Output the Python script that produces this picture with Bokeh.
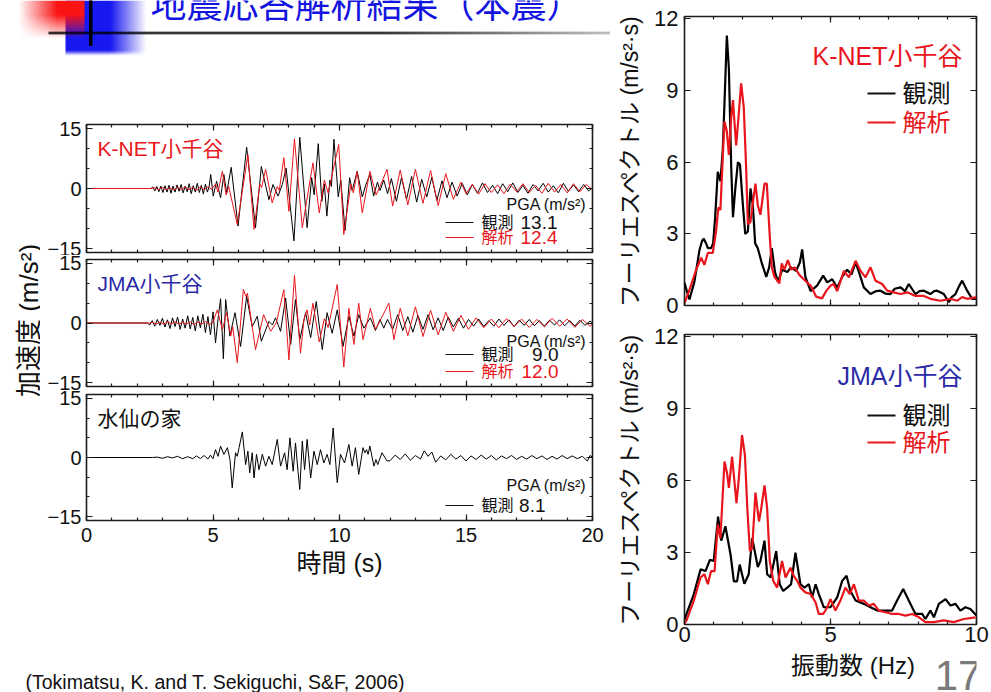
import numpy as np
from bokeh.plotting import figure
from bokeh.layouts import row, column
from bokeh.models import Range1d, FixedTicker, LinearAxis, Label
from bokeh.embed import file_html
from bokeh.resources import INLINE
from bokeh.core.properties import value

# ---------------------------------------------------------------- data
TITLE = "地震応答解析結果（本震）"
SOURCE = "(Tokimatsu, K. and T. Sekiguchi, S&F, 2006)"
PAGE_NO = "17"

STATIONS = ["K-NET小千谷", "JMA小千谷", "水仙の家"]
SERIES_NAMES = ["観測", "解析"]
PGA_OBS = [13.1, 9.0, 8.1]          # m/s^2
PGA_SIM = [12.4, 12.0, None]        # m/s^2

TIME_TICKS = [0, 5, 10, 15, 20]
TIME_MINOR = list(range(0, 21))
ACC_TICKS = [-15, 0, 15]
ACC_MINOR = [-10, -5, 5, 10]
FREQ_TICKS = [0, 5, 10]
FREQ_MINOR = list(range(0, 11))
FOURIER_TICKS = [0, 3, 6, 9, 12]

# acceleration records (time s, acceleration m/s^2), extrema of the traces
KNET_OBS = [
    (0.0, 0.0), (2.55, 0.0), (2.62, 0.4), (2.7, -0.6), (2.78, 0.5), (2.86, -0.8), (2.94, 0.6),
    (3.02, -1.0), (3.1, 0.7), (3.18, -0.9), (3.26, 0.8), (3.34, -1.2), (3.42, 0.6), (3.5, -0.9),
    (3.58, 0.9), (3.66, -0.7), (3.74, 1.0), (3.82, -1.1), (3.9, 0.6), (3.98, -0.8), (4.06, 1.2),
    (4.14, -1.3), (4.22, 0.7), (4.3, -0.9), (4.38, 1.3), (4.46, -1.0), (4.54, 0.8), (4.62, -1.4),
    (4.7, 1.1), (4.78, -0.9), (4.85, 0.6), (4.91, 3.5), (5.01, -1.9), (5.14, 1.8), (5.30, -2.3),
    (5.43, 3.5), (5.54, -1.1), (5.72, 5.3), (5.99, -9.4), (6.33, 10.3), (6.68, -9.8), (6.91, 5.5),
    (7.05, 1.6), (7.21, -2.8), (7.37, 1.0), (7.57, -1.9), (7.74, 1.0), (7.89, 5.1), (8.2, -13.1),
    (8.43, 12.8), (8.72, -9.8), (8.9, 2.7), (9.0, -1.6), (9.16, 11.2), (9.3, -3.2), (9.4, 1.1),
    (9.5, -6.9), (9.62, 2.1), (9.68, 0.5), (9.78, 12.3), (9.95, -2.1), (10.05, 2.1), (10.22, -10.5),
    (10.4, 2.7), (10.5, -0.5), (10.7, 4.3), (10.9, -2.1), (11.05, 1.1), (11.2, 3.5), (11.35, -1.9),
    (11.5, 1.6), (11.6, -0.5), (11.75, 2.1), (11.9, -1.3), (12.05, 2.5), (12.25, -3.2), (12.45, 2.7),
    (12.65, -2.7), (12.85, 3.0), (13.05, -3.4), (13.25, 2.3), (13.45, -2.1), (13.65, 2.8),
    (13.85, -3.0), (14.05, 1.9), (14.25, -2.3), (14.45, 1.6), (14.65, -1.9), (14.85, 1.3),
    (15.05, -1.6), (15.25, 1.0), (15.45, -1.2), (15.65, 1.4), (15.85, -1.0), (16.05, 0.8),
    (16.25, -1.3), (16.45, 1.2), (16.65, -0.8), (16.85, 1.4), (17.05, -1.0), (17.25, 0.8),
    (17.45, -1.2), (17.65, 1.0), (17.85, -0.6), (18.05, 1.3), (18.25, -0.9), (18.45, 0.7),
    (18.65, -1.1), (18.85, 1.3), (19.05, -0.7), (19.25, 0.9), (19.45, -0.8), (19.65, 1.0),
    (19.85, -0.6), (20.0, 0.2),
]
KNET_SIM = [
    (0.0, 0.0), (2.55, 0.0), (2.7, 0.2), (2.85, -0.3), (3.0, 0.3), (3.15, -0.3), (3.3, 0.2),
    (3.45, -0.4), (3.6, 0.3), (3.75, -0.3), (3.9, 0.4), (4.05, -0.3), (4.2, 0.3), (4.35, -0.4),
    (4.5, 0.4), (4.65, -0.3), (4.8, 0.4), (4.95, -0.2), (5.1, 1.1), (5.2, -0.9), (5.37, 4.3),
    (5.52, -1.6), (5.62, 0.5), (5.96, -9.0), (6.38, 8.5), (6.62, -10.2), (6.85, 1.1), (6.92, 0.2),
    (7.08, 4.8), (7.34, -3.6), (7.54, 0.5), (7.62, -0.5), (7.8, 7.7), (8.0, -5.7), (8.22, 12.4),
    (8.53, -9.8), (8.95, 6.4), (9.2, -6.1), (9.4, 2.1), (9.55, -1.1), (9.97, 11.0), (10.17, -11.5),
    (10.45, 1.1), (10.55, -1.1), (10.7, 4.3), (10.9, -6.1), (11.2, 4.3), (11.45, -1.6), (11.6, 0.5),
    (11.88, 4.8), (12.1, -4.4), (12.4, 4.6), (12.7, -4.1), (13.0, 4.8), (13.3, -3.7), (13.6, 4.5),
    (13.9, -4.3), (14.2, 3.7), (14.5, -2.7), (14.8, 1.6), (15.0, -1.3), (15.25, 1.0), (15.5, -1.4),
    (15.75, 1.2), (16.0, -1.0), (16.25, 0.9), (16.5, -1.3), (16.75, 1.1), (17.0, -0.8), (17.25, 1.2),
    (17.5, -1.0), (17.75, 0.8), (18.0, -1.2), (18.25, 1.3), (18.5, -0.9), (18.75, 1.0), (19.0, -1.1),
    (19.25, 1.2), (19.5, -0.8), (19.75, 1.0), (20.0, -0.3),
]
JMA_OBS = [
    (0.0, 0.0), (2.4, 0.0), (2.5, -0.5), (2.6, 0.6), (2.7, -0.8), (2.8, 0.9), (2.9, -0.6),
    (3.0, 1.2), (3.1, -1.0), (3.2, 0.8), (3.3, -1.4), (3.4, 1.3), (3.5, -0.9), (3.6, 1.5),
    (3.7, -1.6), (3.8, 1.0), (3.9, -1.3), (4.0, 1.8), (4.1, -1.5), (4.2, 1.4), (4.3, -2.0),
    (4.4, 1.8), (4.5, -1.2), (4.6, 2.2), (4.7, -2.4), (4.8, 1.6), (4.9, -3.0), (5.0, 2.8),
    (5.1, -5.0), (5.2, 1.1), (5.3, 6.1), (5.41, -9.0), (5.5, 5.9), (5.67, -3.3), (5.87, 2.6),
    (6.09, -5.9), (6.33, 6.7), (6.55, -0.9), (6.75, 1.7), (6.91, -4.6), (7.21, 0.4), (7.35, -0.5),
    (7.47, 1.3), (7.67, -2.1), (7.87, 6.3), (8.07, -5.4), (8.26, 5.9), (8.43, -4.2), (8.66, 2.6),
    (8.86, -3.7), (9.08, 5.4), (9.32, -6.7), (9.51, 2.6), (9.71, -2.6), (9.91, 3.3), (10.14, -5.9),
    (10.37, 1.7), (10.57, -3.3), (10.76, 2.1), (10.96, -1.3), (11.22, 1.3), (11.42, -1.9),
    (11.6, 0.9), (11.75, -1.3), (11.9, 0.9), (12.1, -1.6), (12.3, 2.1), (12.5, -1.9), (12.7, 1.6),
    (12.9, -2.3), (13.1, 1.9), (13.3, -1.6), (13.5, 2.1), (13.7, -1.7), (13.9, 1.3), (14.1, -1.9),
    (14.3, 1.5), (14.5, -1.0), (14.7, 1.2), (14.9, -1.3), (15.1, 0.9), (15.3, -0.8), (15.5, 1.0),
    (15.7, -0.9), (15.9, 0.6), (16.1, -0.8), (16.3, 1.0), (16.5, -0.6), (16.7, 0.8), (16.9, -0.9),
    (17.1, 0.7), (17.3, -0.6), (17.5, 0.9), (17.7, -0.7), (17.9, 0.6), (18.1, -0.8), (18.3, 0.7),
    (18.5, -0.5), (18.7, 0.8), (18.9, -0.7), (19.1, 0.6), (19.3, -0.8), (19.5, 0.7), (19.7, -0.6),
    (19.9, 0.5), (20.0, 0.0),
]
JMA_SIM = [
    (0.0, 0.0), (2.5, 0.0), (2.6, 0.2), (2.75, -0.3), (2.9, 0.2), (3.05, -0.3), (3.2, 0.3),
    (3.35, -0.2), (3.5, 0.3), (3.65, -0.3), (3.8, 0.2), (3.95, -0.3), (4.1, 0.3), (4.25, -0.4),
    (4.4, 0.3), (4.55, -0.3), (4.7, 0.4), (4.85, -0.4), (5.0, 0.2), (5.17, 3.3), (5.37, -1.7),
    (5.54, 2.6), (5.7, -3.3), (5.78, -0.9), (5.96, -10.0), (6.2, 8.5), (6.3, 6.7), (6.36, 7.5),
    (6.68, -6.7), (7.0, 2.1), (7.28, -2.1), (7.5, 0.0), (7.8, 8.4), (8.0, -9.3), (8.22, 12.0),
    (8.46, -7.6), (8.6, 1.1), (8.72, 3.3), (8.82, -0.5), (8.95, 5.0), (9.2, -4.8), (9.4, 1.1),
    (9.55, -1.1), (9.91, 9.7), (10.17, -11.1), (10.37, 3.7), (10.57, -5.4), (10.76, 5.0),
    (10.93, -4.2), (11.22, 3.7), (11.42, -1.6), (11.6, 0.5), (11.95, 5.0), (12.15, -4.2),
    (12.4, 3.7), (12.7, -3.2), (13.0, 4.1), (13.3, -3.4), (13.6, 3.2), (13.9, -3.0), (14.2, 2.7),
    (14.5, -2.1), (14.8, 1.9), (15.1, -1.6), (15.4, 1.3), (15.7, -1.2), (16.0, 1.0), (16.3, -1.2),
    (16.6, 1.1), (16.9, -0.9), (17.2, 1.0), (17.5, -1.1), (17.8, 0.9), (18.1, -1.0), (18.4, 1.2),
    (18.7, -0.8), (19.0, 1.0), (19.3, -1.1), (19.6, 0.9), (19.9, -0.8), (20.0, -0.3),
]
SUISEN_OBS = [
    (0.0, 0.0), (2.6, 0.0), (2.8, 0.1), (3.0, -0.2), (3.2, 0.2), (3.4, -0.1), (3.6, 0.3),
    (3.8, -0.3), (4.0, 0.2), (4.2, -0.3), (4.35, 0.4), (4.5, -0.3), (4.65, 0.5), (4.8, -0.4),
    (4.9, 0.6), (5.0, -0.3), (5.1, 2.0), (5.2, 0.3), (5.3, 2.9), (5.43, 0.8), (5.57, 2.5),
    (5.67, -0.5), (5.76, -7.7), (5.89, 1.2), (5.96, 0.3), (6.03, 2.5), (6.16, 6.5), (6.29, -1.8),
    (6.38, 1.6), (6.45, -3.9), (6.55, 1.2), (6.62, -5.2), (6.72, 0.8), (6.82, -3.1), (6.95, 0.8),
    (7.08, -2.2), (7.21, 0.3), (7.34, -1.8), (7.54, 4.6), (7.67, -2.2), (7.83, 1.2), (7.93, -3.1),
    (8.04, 5.0), (8.17, -3.5), (8.26, 3.7), (8.36, -3.5), (8.43, -8.1), (8.53, 4.2), (8.62, -3.1),
    (8.72, 4.6), (8.86, -5.2), (8.99, 1.6), (9.12, -1.8), (9.25, 2.0), (9.38, -1.4), (9.51, 0.8),
    (9.62, -1.8), (9.75, 7.5), (9.91, -6.4), (10.04, 0.8), (10.2, -1.4), (10.37, 3.3), (10.5, -2.2),
    (10.63, 2.5), (10.76, -4.3), (10.93, 2.5), (11.0, 1.2), (11.07, 2.0), (11.13, 0.8), (11.2, 2.9),
    (11.36, -2.2), (11.44, -0.5), (11.51, -1.8), (11.68, 1.2), (11.88, -0.9), (12.0, -0.8),
    (12.2, 0.6), (12.4, -0.5), (12.6, 0.9), (12.8, -0.7), (13.0, 0.5), (13.2, -0.4), (13.35, 1.7),
    (13.5, 0.3), (13.65, 1.4), (13.8, -1.2), (14.0, 0.4), (14.2, -0.6), (14.4, 0.8), (14.6, -0.4),
    (14.8, 0.5), (15.0, -0.9), (15.2, 0.4), (15.4, -0.5), (15.6, 0.6), (15.8, -0.4), (16.0, 0.5),
    (16.2, -0.6), (16.4, 0.4), (16.6, -0.3), (16.8, 0.5), (17.0, -0.5), (17.2, 0.3), (17.4, -0.4),
    (17.6, 0.5), (17.8, -0.3), (18.0, 0.4), (18.2, -0.5), (18.4, 0.3), (18.6, -0.4), (18.8, 0.5),
    (19.0, -0.3), (19.2, 0.4), (19.4, -0.3), (19.6, 0.3), (19.8, -0.9), (19.9, 0.5), (20.0, 0.1),
]

# Fourier spectra (frequency Hz, amplitude m/s^2*s)
KNET_FS_OBS = [
    (0.0, 0.95), (0.08, 0.6), (0.17, 0.25), (0.34, 1.0), (0.51, 2.3), (0.6, 2.7), (0.66, 2.8),
    (0.74, 2.6), (0.8, 2.4), (0.91, 2.4), (0.98, 2.6), (1.05, 3.7), (1.14, 5.6), (1.23, 5.2),
    (1.31, 6.5), (1.37, 8.5), (1.45, 11.3), (1.52, 9.9), (1.6, 5.8), (1.66, 3.7), (1.74, 4.9),
    (1.83, 6.0), (1.9, 5.9), (2.0, 4.2), (2.08, 3.0), (2.17, 3.1), (2.26, 4.9), (2.34, 4.2),
    (2.42, 2.6), (2.51, 2.4), (2.65, 1.76), (2.8, 1.2), (2.9, 1.6), (2.99, 2.4), (3.1, 1.4),
    (3.2, 1.0), (3.35, 1.5), (3.52, 1.4), (3.65, 1.6), (3.82, 1.45), (3.95, 1.8), (4.03, 2.35),
    (4.14, 1.2), (4.32, 0.6), (4.54, 0.83), (4.75, 1.25), (4.89, 0.97), (5.06, 1.1), (5.23, 0.75),
    (5.4, 1.2), (5.57, 1.5), (5.72, 1.3), (5.86, 1.8), (6.0, 1.3), (6.14, 0.76), (6.37, 0.48),
    (6.55, 0.6), (6.71, 0.62), (6.88, 0.5), (7.05, 0.48), (7.2, 0.7), (7.4, 0.76), (7.55, 0.6),
    (7.68, 0.9), (7.91, 0.48), (8.05, 0.6), (8.2, 0.62), (8.42, 0.48), (8.55, 0.6), (8.65, 0.62),
    (8.88, 0.48), (9.05, 0.14), (9.15, 0.35), (9.28, 0.48), (9.4, 0.8), (9.51, 1.04), (9.68, 0.62),
    (9.85, 0.28), (10.0, 0.28),
]
KNET_FS_SIM = [
    (0.0, 0.1), (0.17, 0.65), (0.4, 1.5), (0.57, 2.0), (0.68, 1.7), (0.8, 2.2), (0.97, 2.2),
    (1.08, 3.1), (1.16, 4.1), (1.23, 4.0), (1.31, 6.2), (1.37, 7.7), (1.45, 7.3), (1.52, 6.3),
    (1.6, 7.9), (1.66, 8.6), (1.71, 7.7), (1.77, 6.7), (1.85, 7.9), (1.94, 9.3), (2.03, 8.3),
    (2.11, 5.8), (2.17, 3.4), (2.26, 3.5), (2.34, 4.3), (2.43, 5.1), (2.51, 4.2), (2.6, 3.8),
    (2.74, 5.1), (2.82, 5.1), (2.91, 3.1), (2.99, 1.6), (3.08, 1.2), (3.25, 0.93), (3.33, 1.76),
    (3.42, 1.5), (3.54, 1.9), (3.65, 1.5), (3.77, 1.6), (3.94, 1.27), (4.11, 1.07), (4.34, 0.8),
    (4.51, 0.37), (4.71, 0.3), (4.85, 0.6), (5.0, 0.83), (5.11, 0.9), (5.23, 0.6), (5.46, 1.45),
    (5.63, 1.18), (5.86, 1.87), (6.03, 1.45), (6.2, 1.18), (6.37, 1.6), (6.54, 1.04), (6.77, 0.9),
    (6.94, 0.62), (7.17, 0.55), (7.4, 0.48), (7.63, 0.55), (7.91, 0.4), (8.2, 0.4), (8.42, 0.28),
    (8.77, 0.2), (9.1, 0.28), (9.34, 0.2), (9.51, 0.35), (9.68, 0.28), (10.0, 0.35),
]
JMA_FS_OBS = [
    (0.0, 0.2), (0.07, 0.44), (0.32, 1.27), (0.55, 2.3), (0.72, 2.23), (0.87, 2.7), (1.0, 2.65),
    (1.15, 4.5), (1.26, 3.5), (1.4, 4.1), (1.58, 2.9), (1.69, 1.8), (1.8, 1.8), (1.89, 2.5),
    (1.97, 2.1), (2.05, 1.7), (2.2, 2.1), (2.32, 3.6), (2.43, 2.9), (2.51, 2.4), (2.6, 2.65),
    (2.74, 3.5), (2.83, 2.1), (2.95, 1.96), (3.14, 3.06), (3.26, 1.68), (3.38, 1.4), (3.52, 1.54),
    (3.65, 1.68), (3.8, 3.0), (3.97, 1.68), (4.11, 1.54), (4.26, 1.68), (4.37, 1.13), (4.49, 1.68),
    (4.6, 1.27), (4.77, 0.72), (5.0, 0.72), (5.23, 1.13), (5.4, 1.82), (5.55, 2.03), (5.68, 1.4),
    (5.86, 1.0), (6.14, 0.86), (6.37, 0.72), (6.6, 0.58), (6.88, 0.58), (7.11, 0.58), (7.28, 1.0),
    (7.49, 1.48), (7.68, 1.0), (7.91, 0.44), (8.14, 0.44), (8.25, 0.23), (8.42, 0.58), (8.54, 0.3),
    (8.71, 0.86), (8.94, 1.06), (9.11, 0.79), (9.28, 0.86), (9.45, 0.58), (9.62, 0.72), (9.79, 0.65),
    (10.0, 0.37),
]
JMA_FS_SIM = [
    (0.0, 0.05), (0.07, 0.17), (0.32, 1.0), (0.55, 1.96), (0.68, 2.1), (0.8, 1.68), (0.91, 2.23),
    (1.03, 2.23), (1.14, 4.17), (1.23, 3.6), (1.37, 6.8), (1.46, 6.3), (1.52, 5.7), (1.63, 7.0),
    (1.78, 5.06), (1.86, 6.1), (1.97, 7.9), (2.07, 7.06), (2.15, 4.86), (2.24, 3.06), (2.32, 3.2),
    (2.43, 5.5), (2.55, 4.3), (2.63, 4.86), (2.74, 5.8), (2.83, 4.86), (2.92, 2.65), (3.04, 1.82),
    (3.17, 1.54), (3.34, 2.65), (3.46, 1.96), (3.63, 2.37), (3.74, 2.03), (3.86, 1.82), (3.97, 1.54),
    (4.14, 1.34), (4.32, 1.27), (4.49, 0.92), (4.6, 0.44), (4.75, 0.44), (4.89, 0.72), (5.0, 1.06),
    (5.17, 0.58), (5.34, 1.0), (5.51, 1.54), (5.66, 1.27), (5.8, 1.68), (5.97, 1.0), (6.14, 1.0),
    (6.31, 0.79), (6.48, 0.86), (6.66, 0.58), (6.88, 0.51), (7.11, 0.44), (7.34, 0.44), (7.57, 0.37),
    (7.8, 0.44), (8.03, 0.3), (8.25, 0.1), (8.54, 0.1), (8.88, 0.17), (9.22, 0.1), (9.57, 0.23),
    (9.97, 0.3),
]

# ---------------------------------------------------------------- style
FONT = "Liberation Sans, Noto Sans CJK JP"
RED = "#e8161c"
NAVY = "#2a2aa6"
INK = "#1c1c1c"
TEXT = "#111111"
TITLE_BLUE = "#1414e0"


def cols(pairs):
    return [p[0] for p in pairs], [p[1] for p in pairs]


def style_axis(ax, ticker, size=None, standoff=6):
    ax.ticker = ticker
    ax.axis_line_color = None
    ax.major_tick_in, ax.major_tick_out = 6, 0
    ax.minor_tick_in, ax.minor_tick_out = 3, 0
    ax.major_tick_line_color = INK
    ax.minor_tick_line_color = INK
    ax.major_tick_line_width = 1.2
    ax.minor_tick_line_width = 1.2
    if size is None:
        # tick marks only: labels are not painted and take (almost) no room
        ax.major_label_text_color = None
        ax.major_label_text_font_size = "1px"
        ax.major_label_standoff = 0
    else:
        ax.major_label_text_font = FONT
        ax.major_label_text_font_size = size
        ax.major_label_text_color = TEXT
        ax.major_label_standoff = standoff


def mirror_axes(p, xticker, yticker):
    top = LinearAxis()
    style_axis(top, xticker)
    p.add_layout(top, "above")
    right = LinearAxis()
    style_axis(right, yticker)
    p.add_layout(right, "right")


def set_axis_label(ax, text, size, standoff):
    ax.axis_label = text
    ax.axis_label_text_font = FONT
    ax.axis_label_text_font_size = size
    ax.axis_label_text_font_style = "normal"
    ax.axis_label_text_color = TEXT
    ax.axis_label_standoff = standoff


def label(p, x, y, text, size, color=TEXT, align="left", baseline="middle"):
    p.add_layout(Label(x=x, y=y, text=text, text_font=FONT, text_font_size=size,
                       text_color=color, text_align=align, text_baseline=baseline,
                       text_font_style="normal"))


def blank(width, height):
    p = figure(width=width, height=height, x_range=Range1d(0, width), y_range=Range1d(0, height),
               min_border=0, x_axis_type=None, y_axis_type=None, outline_line_color=None,
               toolbar_location=None, output_backend="svg")
    p.grid.visible = False
    return p


def place_text(p, x, y, text, size, color=TEXT, align="left", angle=0.0):
    p.text(x=[x], y=[y], text=[text], text_font=value(FONT), text_font_size=size,
           text_color=color, text_align=align, text_baseline="middle", angle=angle)


# ---------------------------------------------------------------- acceleration panels
SIDE_W = 40
WAVE_W = 570
FRAME_W = 506


def wave_panel(idx, height, top, bottom, traces, name_color, pga_dy, row_dy, value_dx, show_x):
    fh = height - top - bottom
    p = figure(width=WAVE_W, height=height, min_border_left=46, min_border_right=18,
               min_border_top=top, min_border_bottom=bottom,
               x_range=Range1d(0, 20), y_range=Range1d(-16, 16),
               toolbar_location=None, output_backend="svg",
               outline_line_color=INK, outline_line_width=1.6)
    p.grid.visible = False
    xa, ya = p.below[0], p.left[0]
    style_axis(xa, FixedTicker(ticks=TIME_TICKS, minor_ticks=TIME_MINOR),
               "20px" if show_x else None, standoff=7)
    style_axis(ya, FixedTicker(ticks=ACC_TICKS, minor_ticks=ACC_MINOR), "20px", standoff=5)
    mirror_axes(p, FixedTicker(ticks=TIME_TICKS, minor_ticks=TIME_MINOR),
                FixedTicker(ticks=ACC_TICKS, minor_ticks=ACC_MINOR))
    if show_x:
        set_axis_label(xa, "時間 (s)", "25px", 4)

    for pairs, color in traces:
        t, a = cols(pairs)
        p.line(t, a, line_color=color, line_width=1.0)

    def at(dx, dy):  # pixel offsets from the frame's top-left corner
        return dx * 20 / FRAME_W, 16 - dy * 32 / fh

    label(p, *at(11, 24), STATIONS[idx], "21px", name_color)
    label(p, *at(500, pga_dy), "PGA (m/s²)", "16px", TEXT, align="right")
    values = [PGA_OBS[idx], PGA_SIM[idx]]
    for k, (name, color) in enumerate(zip(SERIES_NAMES, [TEXT, RED])):
        if values[k] is None:
            continue
        dy = row_dy[k]
        x0, y0 = at(359, dy)
        x1, _ = at(387, dy)
        p.line([x0, x1], [y0, y0], line_color=color, line_width=1.2)
        label(p, *at(395, dy), name, "16px", color)
        label(p, *at(value_dx, dy), f"{values[k]:.1f}", "19px", color, align="right")
    return p


p1 = wave_panel(0, 135, 4, 3, [(KNET_OBS, "black"), (KNET_SIM, RED)], RED, 80, [98, 113], 471, False)
p2 = wave_panel(1, 135, 4, 4, [(JMA_OBS, "black"), (JMA_SIM, RED)], NAVY, 82, [95, 112], 472, False)
p3 = wave_panel(2, 210, 4, 80, [(SUISEN_OBS, "black")], TEXT, 91, [111, None], 459, True)

# ---------------------------------------------------------------- Fourier spectra panels
SPEC_W = 381
SPEC_FW = 292
SPEC_TOP = 12.1


def spec_panel(height, top, bottom, obs, sim, name, name_color, name_dy, row_dy, show_x):
    fh = height - top - bottom
    p = figure(width=SPEC_W, height=height, min_border_left=74, min_border_right=15,
               min_border_top=top, min_border_bottom=bottom,
               x_range=Range1d(0, 10), y_range=Range1d(0, SPEC_TOP),
               toolbar_location=None, output_backend="svg",
               outline_line_color=INK, outline_line_width=1.6)
    p.grid.visible = False
    xa, ya = p.below[0], p.left[0]
    style_axis(xa, FixedTicker(ticks=FREQ_TICKS, minor_ticks=FREQ_MINOR),
               "22px" if show_x else None, standoff=2)
    style_axis(ya, FixedTicker(ticks=FOURIER_TICKS), "22px", standoff=6)
    mirror_axes(p, FixedTicker(ticks=FREQ_TICKS, minor_ticks=FREQ_MINOR),
                FixedTicker(ticks=FOURIER_TICKS))
    set_axis_label(ya, "フーリエスペクトル (m/s²·s)", "23px", 8)

    f, v = cols(obs)
    p.line(f, v, line_color="black", line_width=2.2)
    f, v = cols(sim)
    p.line(f, v, line_color=RED, line_width=2.2)

    def at(dx, dy):
        return dx * 10 / SPEC_FW, SPEC_TOP - dy * SPEC_TOP / fh

    label(p, *at(278, name_dy), name, "25px", name_color, align="right")
    for k, (sname, color) in enumerate(zip(SERIES_NAMES, [TEXT, RED])):
        dy = row_dy[k]
        x0, y0 = at(183, dy)
        x1, _ = at(211, dy)
        p.line([x0, x1], [y0, y0], line_color=color, line_width=2.2)
        label(p, *at(218, dy), sname, "24px", color)
    return p


r1 = spec_panel(320, 16, 15, KNET_FS_OBS, KNET_FS_SIM, STATIONS[0], RED, 39, [77, 106], False)
r2 = spec_panel(332, 14, 28, JMA_FS_OBS, JMA_FS_SIM, STATIONS[1], NAVY, 41, [81, 108], True)

# strip under the spectra: frequency axis title and page number
r_foot = blank(SPEC_W, 40)
place_text(r_foot, 220, 40 - 13, "振動数 (Hz)", "24px", align="center")
place_text(r_foot, 357, 40 - 23, PAGE_NO, "42px", color="#7a7a7a", align="center")

# ---------------------------------------------------------------- slide header, side label, footer
HEAD_W, HEAD_H = 610, 120
head = blank(HEAD_W, HEAD_H)


def rgba_block(nx, ny, rgb, alpha):
    img = np.empty((ny, nx), dtype=np.uint32)
    view = img.view(dtype=np.uint8).reshape((ny, nx, 4))
    view[..., 0] = rgb[0]
    view[..., 1] = rgb[1]
    view[..., 2] = rgb[2]
    view[..., 3] = (np.clip(alpha, 0, 1) * 255).astype(np.uint8)
    return img


# blue block, fading to the right
bx0, bx1, bh = 65, 146, 55
gx = (np.arange(bx1 - bx0) + 0.5)
gy = (np.arange(bh) + 0.5)
GX, GY = np.meshgrid(gx, gy)
blue_alpha = np.clip((bx1 - bx0 - GX) / 36, 0, 1) * np.clip(GY / 5, 0, 1)
head.image_rgba(image=[rgba_block(bx1 - bx0, bh, (24, 24, 240), blue_alpha)],
                x=bx0, y=HEAD_H - bh, dw=bx1 - bx0, dh=bh)

# red block, fading to the left and downwards
rx0, rx1, rh = 18, 84, 38
gx = (np.arange(rx1 - rx0) + 0.5) / (rx1 - rx0)
gy = (np.arange(rh) + 0.5) / rh
GX, GY = np.meshgrid(gx, gy)
red_alpha = np.clip(GX * 1.7, 0, 1) * np.clip(GY * 1.6, 0, 1)
head.image_rgba(image=[rgba_block(rx1 - rx0, rh, (250, 20, 20), red_alpha)],
                x=rx0, y=HEAD_H - rh, dw=rx1 - rx0, dh=rh)

# rule under the title, dark to light grey
lx0, lx1 = 48, 610
n = lx1 - lx0
shade = np.clip((np.arange(n) - 330) / (n - 330), 0, 1) * 175
rule = np.empty((3, n), dtype=np.uint32)
rv = rule.view(dtype=np.uint8).reshape((3, n, 4))
for c in range(3):
    rv[..., c] = shade.astype(np.uint8)
rv[..., 3] = np.array([150, 255, 150], dtype=np.uint8)[:, None]
head.image_rgba(image=[rule], x=lx0, y=HEAD_H - 34, dw=n, dh=3)
head.quad(left=[89], right=[91.5], top=[HEAD_H], bottom=[HEAD_H - 45], color="black")

place_text(head, 150, HEAD_H - 5, TITLE, "36px", color=TITLE_BLUE)

side = blank(SIDE_W, 480)
place_text(side, 28, 480 - 200, "加速度 (m/s²)", "26px", align="center", angle=np.pi / 2)

foot = blank(610, 92)
place_text(foot, 25, 11, SOURCE, "19.5px")

layout = row(
    column(head, row(side, column(p1, p2, p3)), foot),
    column(r1, r2, r_foot),
)

open("out.html", "w").write(file_html(layout, INLINE, title="地震応答解析結果"))
